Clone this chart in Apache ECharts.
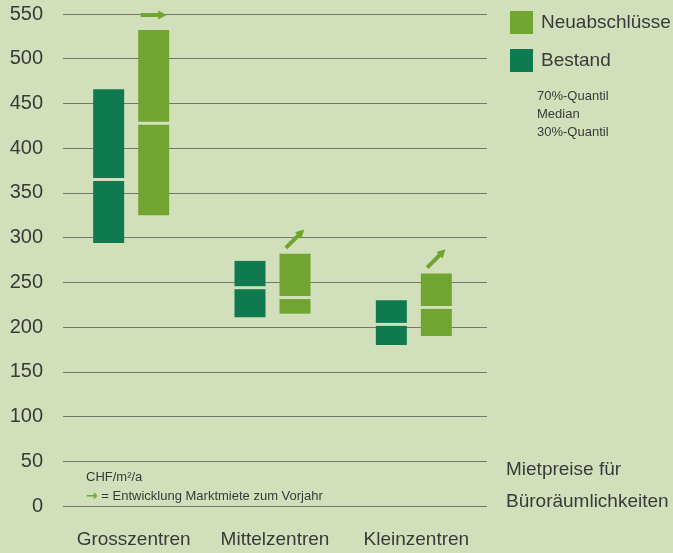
<!DOCTYPE html>
<html>
<head>
<meta charset="utf-8">
<script src="https://cdn.jsdelivr.net/npm/echarts@6/dist/echarts.min.js"></script>
<style>
html,body{margin:0;padding:0;background:#d1e0ba;}
#chart{width:673px;height:553px;}
</style>
</head>
<body>
<div id="chart"></div>
<script>
// ---- data ----
const categories = ['Grosszentren', 'Mittelzentren', 'Kleinzentren'];
const bestandQ30 = [294, 211, 180];
const bestandMedian = [365, 244, 203];
const bestandQ70 = [466, 274, 230];
const neuQ30 = [325, 215, 190];
const neuMedian = [428, 233, 222];
const neuQ70 = [532, 282, 260];
const trendAngleDeg = [0, 45, 45]; // → , ↗ , ↗
const yMin = 0, yMax = 550, yStep = 50;
const legendNotes = ['70%-Quantil', 'Median', '30%-Quantil'];

// ---- style ----
const BG = '#d1e0ba';
const DARK = '#0f7a4f';
const LIGHT = '#72a431';
const TEXT = '#3a3a3a';
const FONT = '"Liberation Sans", Arial, sans-serif';

const chart = echarts.init(document.getElementById('chart'), null, {renderer: 'canvas'});

function makeData(q30, med, q70) {
  return categories.map((c, i) => [i, q30[i], med[i], q70[i]]);
}

function boxRenderer(offsetX, color, withArrow) {
  return function (params, api) {
    const i = api.value(0);
    const pLow = api.coord([i, api.value(1)]);
    const pMed = api.coord([i, api.value(2)]);
    const pHigh = api.coord([i, api.value(3)]);
    const w = 31, gap = 1.5;
    const x = pLow[0] + offsetX - w / 2;
    const children = [
      {type: 'rect', shape: {x: x, y: pHigh[1], width: w, height: pMed[1] - gap - pHigh[1]}, style: {fill: color}},
      {type: 'rect', shape: {x: x, y: pMed[1] + gap, width: w, height: pLow[1] - pMed[1] - gap}, style: {fill: color}}
    ];
    if (withArrow) {
      const ang = trendAngleDeg[i] * Math.PI / 180;
      children.push({
        type: 'polygon',
        x: pLow[0] + offsetX,
        y: pHigh[1] - 15,
        rotation: ang,
        shape: {points: [[-13, -2], [4.5, -2], [4.5, -4.5], [13, 0], [4.5, 4.5], [4.5, 2], [-13, 2]]},
        style: {fill: LIGHT}
      });
    }
    return {type: 'group', children: children};
  };
}

const option = {
  backgroundColor: BG,
  animation: false,
  textStyle: {fontFamily: FONT},
  grid: {left: 63, right: 186, top: 14, bottom: 47, containLabel: false},
  legend: {
    orient: 'vertical',
    left: 505,
    top: 6,
    itemWidth: 23,
    itemHeight: 23,
    itemGap: 15,
    selectedMode: false,
    data: [{name: 'Neuabschlüsse', icon: 'rect'}, {name: 'Bestand', icon: 'rect'}],
    textStyle: {fontSize: 19, color: TEXT, fontFamily: FONT, padding: [0, 0, 0, 3]}
  },
  xAxis: {
    type: 'category',
    data: categories,
    axisLine: {show: false},
    axisTick: {show: false},
    axisLabel: {interval: 0, fontSize: 19, color: TEXT, margin: 24, fontFamily: FONT}
  },
  yAxis: {
    type: 'value',
    min: yMin,
    max: yMax,
    interval: yStep,
    axisLine: {show: false},
    axisTick: {show: false},
    axisLabel: {fontSize: 20, color: TEXT, margin: 20, fontFamily: FONT},
    splitLine: {lineStyle: {color: '#74776d', width: 1}}
  },
  series: [
    {
      name: 'Bestand',
      type: 'custom',
      clip: false,
      itemStyle: {color: DARK},
      encode: {x: 0, y: [1, 2, 3]},
      data: makeData(bestandQ30, bestandMedian, bestandQ70),
      renderItem: boxRenderer(-25, DARK, false)
    },
    {
      name: 'Neuabschlüsse',
      type: 'custom',
      clip: false,
      itemStyle: {color: LIGHT},
      encode: {x: 0, y: [1, 2, 3]},
      data: makeData(neuQ30, neuMedian, neuQ70),
      renderItem: boxRenderer(20, LIGHT, true)
    }
  ],
  graphic: [
    ...legendNotes.map((t, k) => ({
      type: 'text', left: 537, top: 90 + k * 18,
      style: {text: t, fontSize: 13, fill: TEXT, fontFamily: FONT}
    })),
    {type: 'text', left: 506, top: 460, style: {text: 'Mietpreise für', fontSize: 19, fill: TEXT, fontFamily: FONT}},
    {type: 'text', left: 506, top: 492, style: {text: 'Büroräumlichkeiten', fontSize: 19, fill: TEXT, fontFamily: FONT}},
    {type: 'text', left: 86, top: 471, style: {text: 'CHF/m²/a', fontSize: 13, fill: TEXT, fontFamily: FONT}},
    {type: 'text', left: 86, top: 489, style: {
      text: '{a|→} = Entwicklung Marktmiete zum Vorjahr',
      fontSize: 13, fill: TEXT, fontFamily: FONT,
      rich: {a: {fill: LIGHT, fontSize: 14, fontWeight: 'bold', fontFamily: '"DejaVu Sans", sans-serif'}}
    }}
  ]
};
chart.setOption(option);
</script>
</body>
</html>
